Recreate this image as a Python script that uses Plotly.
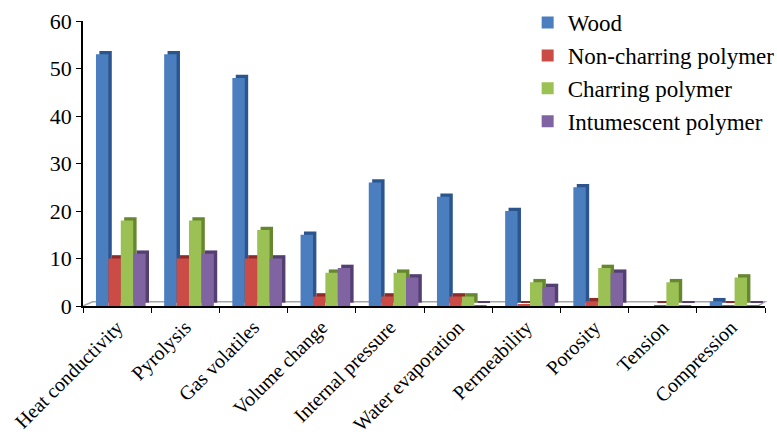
import plotly.graph_objects as go

categories = ["Heat conductivity", "Pyrolysis", "Gas volatiles", "Volume change",
              "Internal pressure", "Water evaporation", "Permeability", "Porosity",
              "Tension", "Compression"]
wood = [53, 53, 48, 15, 26, 23, 20, 25, 0, 1]
non_charring = [10, 10, 10, 2, 2, 2, 0.3, 1, 0.2, 0.2]
charring = [18, 18, 16, 7, 7, 2, 5, 8, 5, 6]
intumescent = [11, 11, 10, 8, 6, 0.2, 4, 7, 0.2, 0.2]

series = [
    ("Wood", wood, "#4A7EBF", "#2B558C"),
    ("Non-charring polymer", non_charring, "#CB4B47", "#8E2B29"),
    ("Charring polymer", charring, "#9BC155", "#66862F"),
    ("Intumescent polymer", intumescent, "#8064A2", "#543F73"),
]

bar_w = 0.182
start = -0.31
depth_x = 0.05
depth_y = 0.7

fig = go.Figure()
for i, (name, vals, col, dark) in enumerate(series):
    fig.add_trace(go.Bar(
        x=categories, y=vals, base=depth_y, width=bar_w,
        offset=start + i * bar_w + depth_x,
        marker=dict(color=dark, line=dict(width=0)),
        showlegend=False, hoverinfo="skip",
    ))
for i, (name, vals, col, dark) in enumerate(series):
    fig.add_trace(go.Bar(
        x=categories, y=vals, name=name, legendgroup=str(i), width=bar_w,
        offset=start + i * bar_w,
        marker=dict(color=col, line=dict(width=0)),
    ))

fig.add_shape(type="path", xref="paper", yref="y",
              path="M 0,0 L 0.014,0.9 L 1.0,0.9 L 0.99,0",
              line=dict(color="#A6A6A6", width=1.5), layer="below")

font_family = "Liberation Serif"
fig.update_layout(
    width=777, height=436,
    margin=dict(l=83, r=12, t=21, b=130, autoexpand=False),
    paper_bgcolor="white", plot_bgcolor="white",
    barmode="overlay",
    font=dict(family=font_family, color="black", size=20),
    legend=dict(
        x=0.652, y=1.07, xanchor="left", yanchor="top",
        font=dict(family=font_family, size=23, color="black"),
        bgcolor="rgba(0,0,0,0)", traceorder="grouped", tracegroupgap=0,
        itemwidth=30,
    ),
    showlegend=True,
)
fig.update_yaxes(
    range=[0, 60], dtick=10, showgrid=False, zeroline=False,
    showline=True, linecolor="black", linewidth=1.5,
    ticks="outside", ticklen=5, tickcolor="black",
    tickfont=dict(family=font_family, size=22, color="black"),
)
fig.update_xaxes(
    showgrid=False, showline=True, linecolor="black", linewidth=1.5,
    ticks="outside", ticklen=5, tickcolor="black", tickson="boundaries",
    tickangle=-45, automargin=False,
    tickfont=dict(family=font_family, size=20, color="black"),
)

fig.write_html("out.html")
